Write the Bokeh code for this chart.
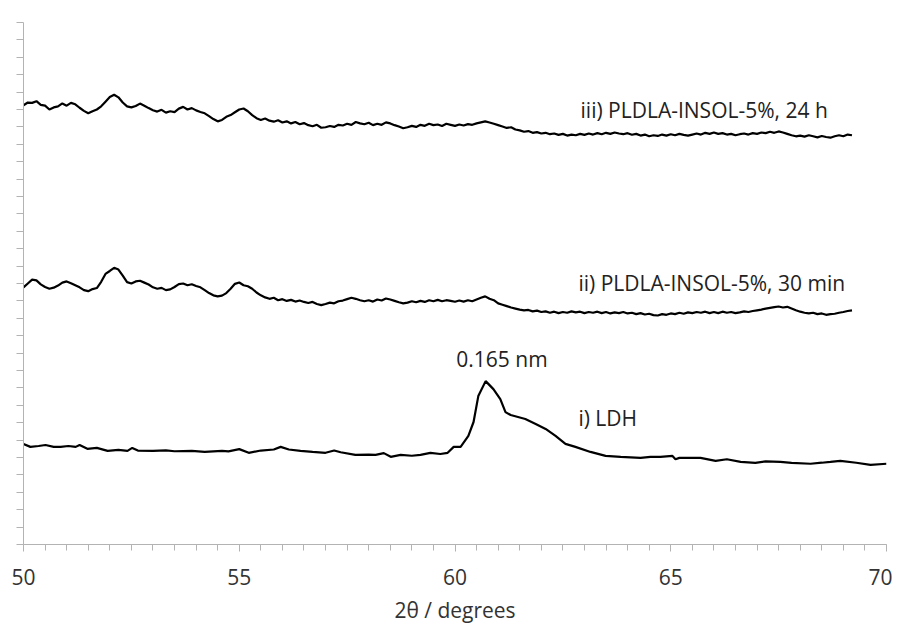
from bokeh.plotting import figure
from bokeh.models import Range1d, SingleIntervalTicker, FixedTicker, Label
from bokeh.embed import file_html
from bokeh.resources import INLINE

# ---- data (2theta in degrees, intensity in arbitrary units) ----
two_theta_start = 50.0
two_theta_step = 0.1

iii_24h = [
    2524, 2540, 2538, 2548, 2527, 2522, 2500, 2512, 2518, 2535,
    2522, 2538, 2530, 2510, 2492, 2478, 2490, 2500, 2518, 2545,
    2572, 2585, 2570, 2540, 2518, 2512, 2520, 2534, 2522, 2508,
    2496, 2488, 2498, 2482, 2490, 2485, 2505, 2515, 2500, 2508,
    2495, 2486, 2478, 2462, 2445, 2432, 2440, 2458, 2468, 2484,
    2500, 2506, 2490, 2468, 2450, 2440, 2448, 2436, 2430, 2438,
    2425, 2432, 2420, 2428, 2415, 2422, 2410, 2404, 2412, 2395,
    2398, 2405, 2400, 2412, 2408, 2418, 2412, 2428, 2420, 2415,
    2424, 2410, 2418, 2412, 2426, 2420, 2410, 2402, 2392, 2398,
    2406, 2400, 2412, 2406, 2418, 2410, 2414, 2405, 2418, 2412,
    2406, 2414, 2408, 2416, 2412, 2420, 2426, 2432, 2425, 2418,
    2410, 2402, 2394, 2398, 2385, 2380, 2372, 2376, 2366, 2370,
    2362, 2366, 2358, 2362, 2354, 2360, 2350, 2356, 2352, 2360,
    2354, 2362, 2356, 2364, 2358, 2366, 2360, 2368, 2362, 2358,
    2364, 2355, 2360, 2350, 2356, 2346, 2352, 2348, 2356, 2350,
    2358, 2352, 2360, 2354, 2350, 2356, 2362, 2356, 2366, 2360,
    2368, 2360, 2364, 2356, 2360, 2352, 2358, 2362, 2356, 2364,
    2360, 2368, 2364, 2372, 2366, 2374, 2368, 2360, 2352, 2346,
    2350, 2344, 2352, 2346, 2340, 2348, 2342, 2338, 2346, 2352,
    2346, 2356, 2352,
]

ii_30min = [
    1478, 1500, 1522, 1518, 1495, 1480, 1470, 1476, 1488, 1505,
    1512, 1502, 1490, 1478, 1462, 1456, 1468, 1474, 1510, 1555,
    1572, 1590, 1580, 1545, 1508, 1500, 1512, 1516, 1505, 1494,
    1478, 1470, 1475, 1462, 1466, 1480, 1496, 1500, 1490, 1496,
    1486, 1478, 1462, 1445, 1432, 1426, 1430, 1445, 1470, 1498,
    1506, 1490, 1484, 1470, 1448, 1432, 1420, 1412, 1418, 1404,
    1410, 1400, 1406, 1396, 1402, 1394, 1388, 1394, 1382, 1376,
    1382, 1390, 1386, 1398, 1402, 1410, 1418, 1412, 1404, 1398,
    1404, 1396, 1408, 1402, 1414, 1408, 1400, 1392, 1386, 1390,
    1398, 1392, 1400, 1394, 1404, 1398, 1406, 1398, 1404, 1400,
    1395, 1402, 1396, 1404, 1398, 1408, 1418, 1426, 1412, 1404,
    1386, 1378, 1370, 1362, 1356, 1350, 1346, 1348, 1340, 1344,
    1336, 1340, 1332, 1338, 1330, 1336, 1332, 1340, 1334, 1338,
    1330, 1336, 1332, 1338, 1330, 1336, 1328, 1334, 1330, 1336,
    1328, 1332, 1324, 1330, 1322, 1326, 1318, 1316, 1324, 1320,
    1328, 1324, 1332, 1326, 1334, 1330, 1336, 1332, 1338, 1330,
    1336, 1330, 1338, 1332, 1336, 1330, 1334, 1340, 1336, 1342,
    1346, 1350, 1356, 1360, 1364, 1368, 1362, 1366, 1356, 1346,
    1338, 1332, 1328, 1332, 1324, 1328, 1320, 1324, 1326, 1332,
    1336, 1342, 1346,
]

ldh_theta = [
    50.00, 50.16, 50.35, 50.51, 50.70, 50.86, 51.04, 51.21, 51.30, 51.48,
    51.70, 51.95, 52.20, 52.41, 52.52, 52.65, 53.00, 53.30, 53.50, 53.90,
    54.20, 54.60, 54.75, 55.00, 55.22, 55.50, 55.80, 55.96, 56.15, 56.42,
    56.70, 57.00, 57.20, 57.35, 57.69, 58.00, 58.16, 58.35, 58.51, 58.74,
    59.00, 59.20, 59.43, 59.66, 59.83, 59.97, 60.13, 60.31, 60.43, 60.54,
    60.71, 60.89, 61.05, 61.17, 61.29, 61.63, 61.87, 62.10, 62.33, 62.56,
    62.79, 63.14, 63.49, 63.84, 64.30, 64.53, 64.76, 65.04, 65.11, 65.20,
    65.69, 66.04, 66.30, 66.62, 66.96, 67.20, 67.54, 67.80, 68.24, 68.50,
    68.70, 68.93, 69.30, 69.63, 70.00,
]
ldh_intensity = [
    578, 561, 566, 572, 561, 561, 566, 561, 572, 550,
    555, 538, 544, 538, 555, 540, 538, 541, 536, 538,
    532, 538, 535, 548, 527, 540, 546, 561, 546, 538,
    532, 527, 540, 530, 515, 517, 515, 525, 504, 515,
    510, 515, 527, 520, 527, 561, 561, 624, 704, 853,
    939, 893, 836, 761, 744, 721, 693, 664, 624, 578,
    561, 532, 509, 504, 498, 504, 504, 509, 490, 498,
    498, 481, 490, 475, 469, 478, 475, 469, 464, 470,
    475, 481, 470, 458, 464,
]

labels = ["iii) PLDLA-INSOL-5%, 24 h", "ii) PLDLA-INSOL-5%, 30 min", "0.165 nm", "i) LDH"]
y_tick_values = list(range(0, 3001, 100))

theta_iii = [round(two_theta_start + i * two_theta_step, 1) for i in range(len(iii_24h))]
theta_ii = [round(two_theta_start + i * two_theta_step, 1) for i in range(len(ii_30min))]

FONT = "Open Sans"
AXIS_GREY = "#b3b3b3"
TEXT_GREY = "#333333"

p = figure(width=892, height=626, output_backend="svg", toolbar_location=None,
           x_range=Range1d(50, 70), y_range=Range1d(0, 3000),
           min_border_left=23, min_border_right=6, min_border_top=22, min_border_bottom=80)
p.outline_line_color = None
p.grid.grid_line_color = None
p.background_fill_color = "white"

# x axis
p.xaxis.ticker = SingleIntervalTicker(interval=5, num_minor_ticks=10)
p.xaxis.axis_line_color = AXIS_GREY
p.xaxis.major_tick_line_color = AXIS_GREY
p.xaxis.minor_tick_line_color = AXIS_GREY
p.xaxis.major_tick_in = 0
p.xaxis.major_tick_out = 7
p.xaxis.minor_tick_in = 0
p.xaxis.minor_tick_out = 6
p.xaxis.major_label_text_font = FONT
p.xaxis.major_label_text_font_size = "21px"
p.xaxis.major_label_text_color = TEXT_GREY
p.xaxis.major_label_standoff = 17
p.xaxis.axis_label = "2θ / degrees"
p.xaxis.axis_label_text_font = FONT
p.xaxis.axis_label_text_font_size = "21px"
p.xaxis.axis_label_text_font_style = "normal"
p.xaxis.axis_label_text_color = TEXT_GREY
p.xaxis.axis_label_standoff = 8

# y axis (unlabelled intensity): only minor-style ticks, no labels
p.yaxis.ticker = FixedTicker(ticks=[], minor_ticks=y_tick_values)
p.yaxis.axis_line_color = AXIS_GREY
p.yaxis.major_tick_line_color = None
p.yaxis.minor_tick_line_color = AXIS_GREY
p.yaxis.minor_tick_in = 0
p.yaxis.minor_tick_out = 7

p.line(theta_iii, iii_24h, line_color="black", line_width=2.2)
p.line(theta_ii, ii_30min, line_color="black", line_width=2.2)
p.line(ldh_theta, ldh_intensity, line_color="black", line_width=2.2)

label_pos = [(62.91, 2496), (62.86, 1505), (60.03, 1065), (62.86, 727)]
for txt, (lx, ly) in zip(labels, label_pos):
    p.add_layout(Label(x=lx, y=ly, text=txt, text_font=FONT, text_font_size="21px",
                       text_color="#222222", text_baseline="middle", text_align="left"))

open("out.html", "w").write(file_html(p, INLINE))
